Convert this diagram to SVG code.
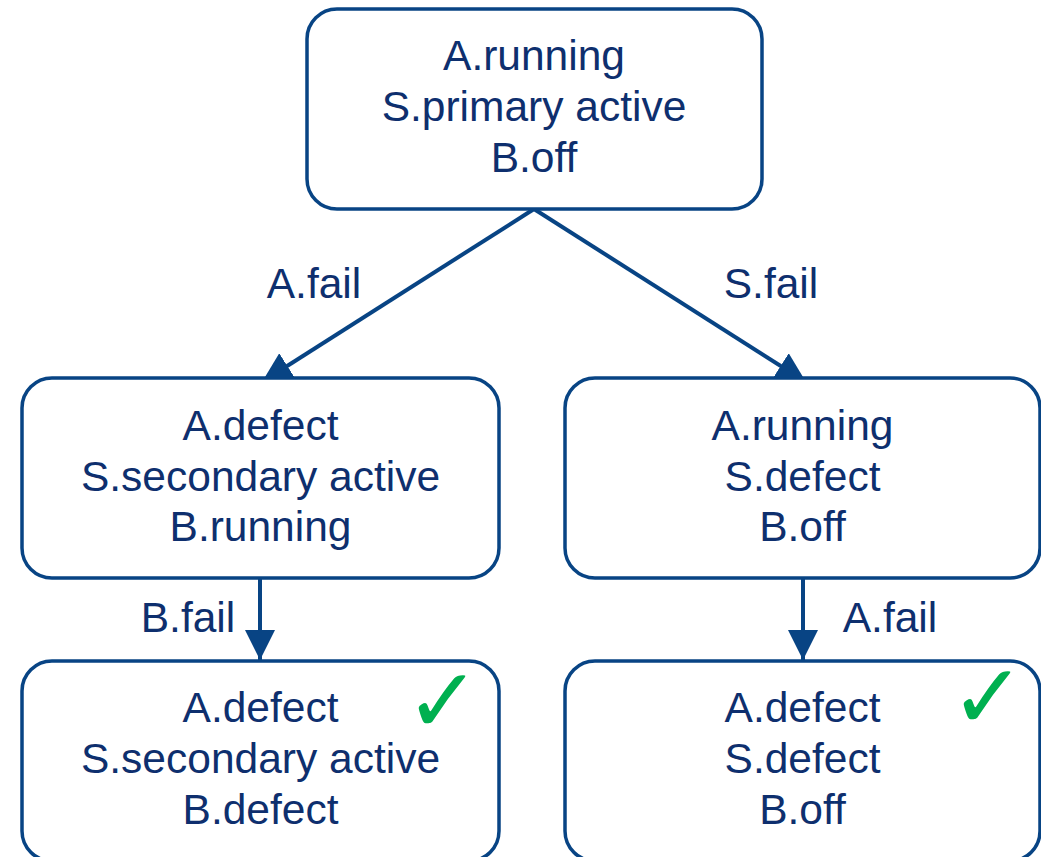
<svg xmlns="http://www.w3.org/2000/svg" width="1041" height="857" viewBox="0 0 1041 857">
<defs>
<style>
.box{fill:#ffffff;stroke:#084484;stroke-width:3.5}
.t{font-family:"Liberation Sans",Arial,sans-serif;font-size:42.5px;fill:#0e2f6e;text-anchor:middle}
.edge{stroke:#084484;stroke-width:4;fill:none}
.chk{font-family:"DejaVu Sans",sans-serif;font-size:90px;fill:#00b050;text-anchor:middle;font-weight:bold}
</style>
<marker id="ah" viewBox="0 0 10 10" refX="10" refY="5" markerWidth="7.5" markerHeight="7.5" markerUnits="strokeWidth" orient="auto">
<path d="M0,0 L10,5 L0,10 z" fill="#084484"/>
</marker>
</defs>
<rect width="1041" height="857" fill="#ffffff"/>
<g id="connectors">
<line class="edge" x1="534" y1="209" x2="262" y2="382" marker-end="url(#ah)"/>
<line class="edge" x1="534" y1="209" x2="806" y2="382" marker-end="url(#ah)"/>
<line class="edge" x1="260" y1="578" x2="260" y2="660" marker-end="url(#ah)"/>
<line class="edge" x1="803" y1="578" x2="803" y2="660" marker-end="url(#ah)"/>
<text class="t" x="314" y="298">A.fail</text>
<text class="t" x="771" y="298">S.fail</text>
<text class="t" x="188" y="632">B.fail</text>
<text class="t" x="890" y="632">A.fail</text>
</g>
<g id="n_top">
<rect class="box" x="307" y="9" width="455" height="200" rx="30"/>
<text class="t" x="534" y="70">A.running</text>
<text class="t" x="534" y="121">S.primary active</text>
<text class="t" x="534" y="172">B.off</text>
</g>
<g id="n_left">
<rect class="box" x="22" y="378" width="477" height="200" rx="30"/>
<text class="t" x="260.5" y="440">A.defect</text>
<text class="t" x="260.5" y="491">S.secondary active</text>
<text class="t" x="260.5" y="541">B.running</text>
</g>
<g id="n_right">
<rect class="box" x="565" y="378" width="475" height="200" rx="30"/>
<text class="t" x="802.5" y="440">A.running</text>
<text class="t" x="802.5" y="491">S.defect</text>
<text class="t" x="802.5" y="541">B.off</text>
</g>
<g id="n_bl">
<rect class="box" x="22" y="661" width="477" height="200" rx="30"/>
<text class="t" x="260.5" y="722">A.defect</text>
<text class="t" x="260.5" y="773">S.secondary active</text>
<text class="t" x="260.5" y="824">B.defect</text>
<text class="chk" x="443" y="732">✓</text>
</g>
<g id="n_br">
<rect class="box" x="565" y="661" width="475" height="200" rx="30"/>
<text class="t" x="802.5" y="722">A.defect</text>
<text class="t" x="802.5" y="773">S.defect</text>
<text class="t" x="802.5" y="824">B.off</text>
<text class="chk" x="988" y="728">✓</text>
</g>
</svg>
